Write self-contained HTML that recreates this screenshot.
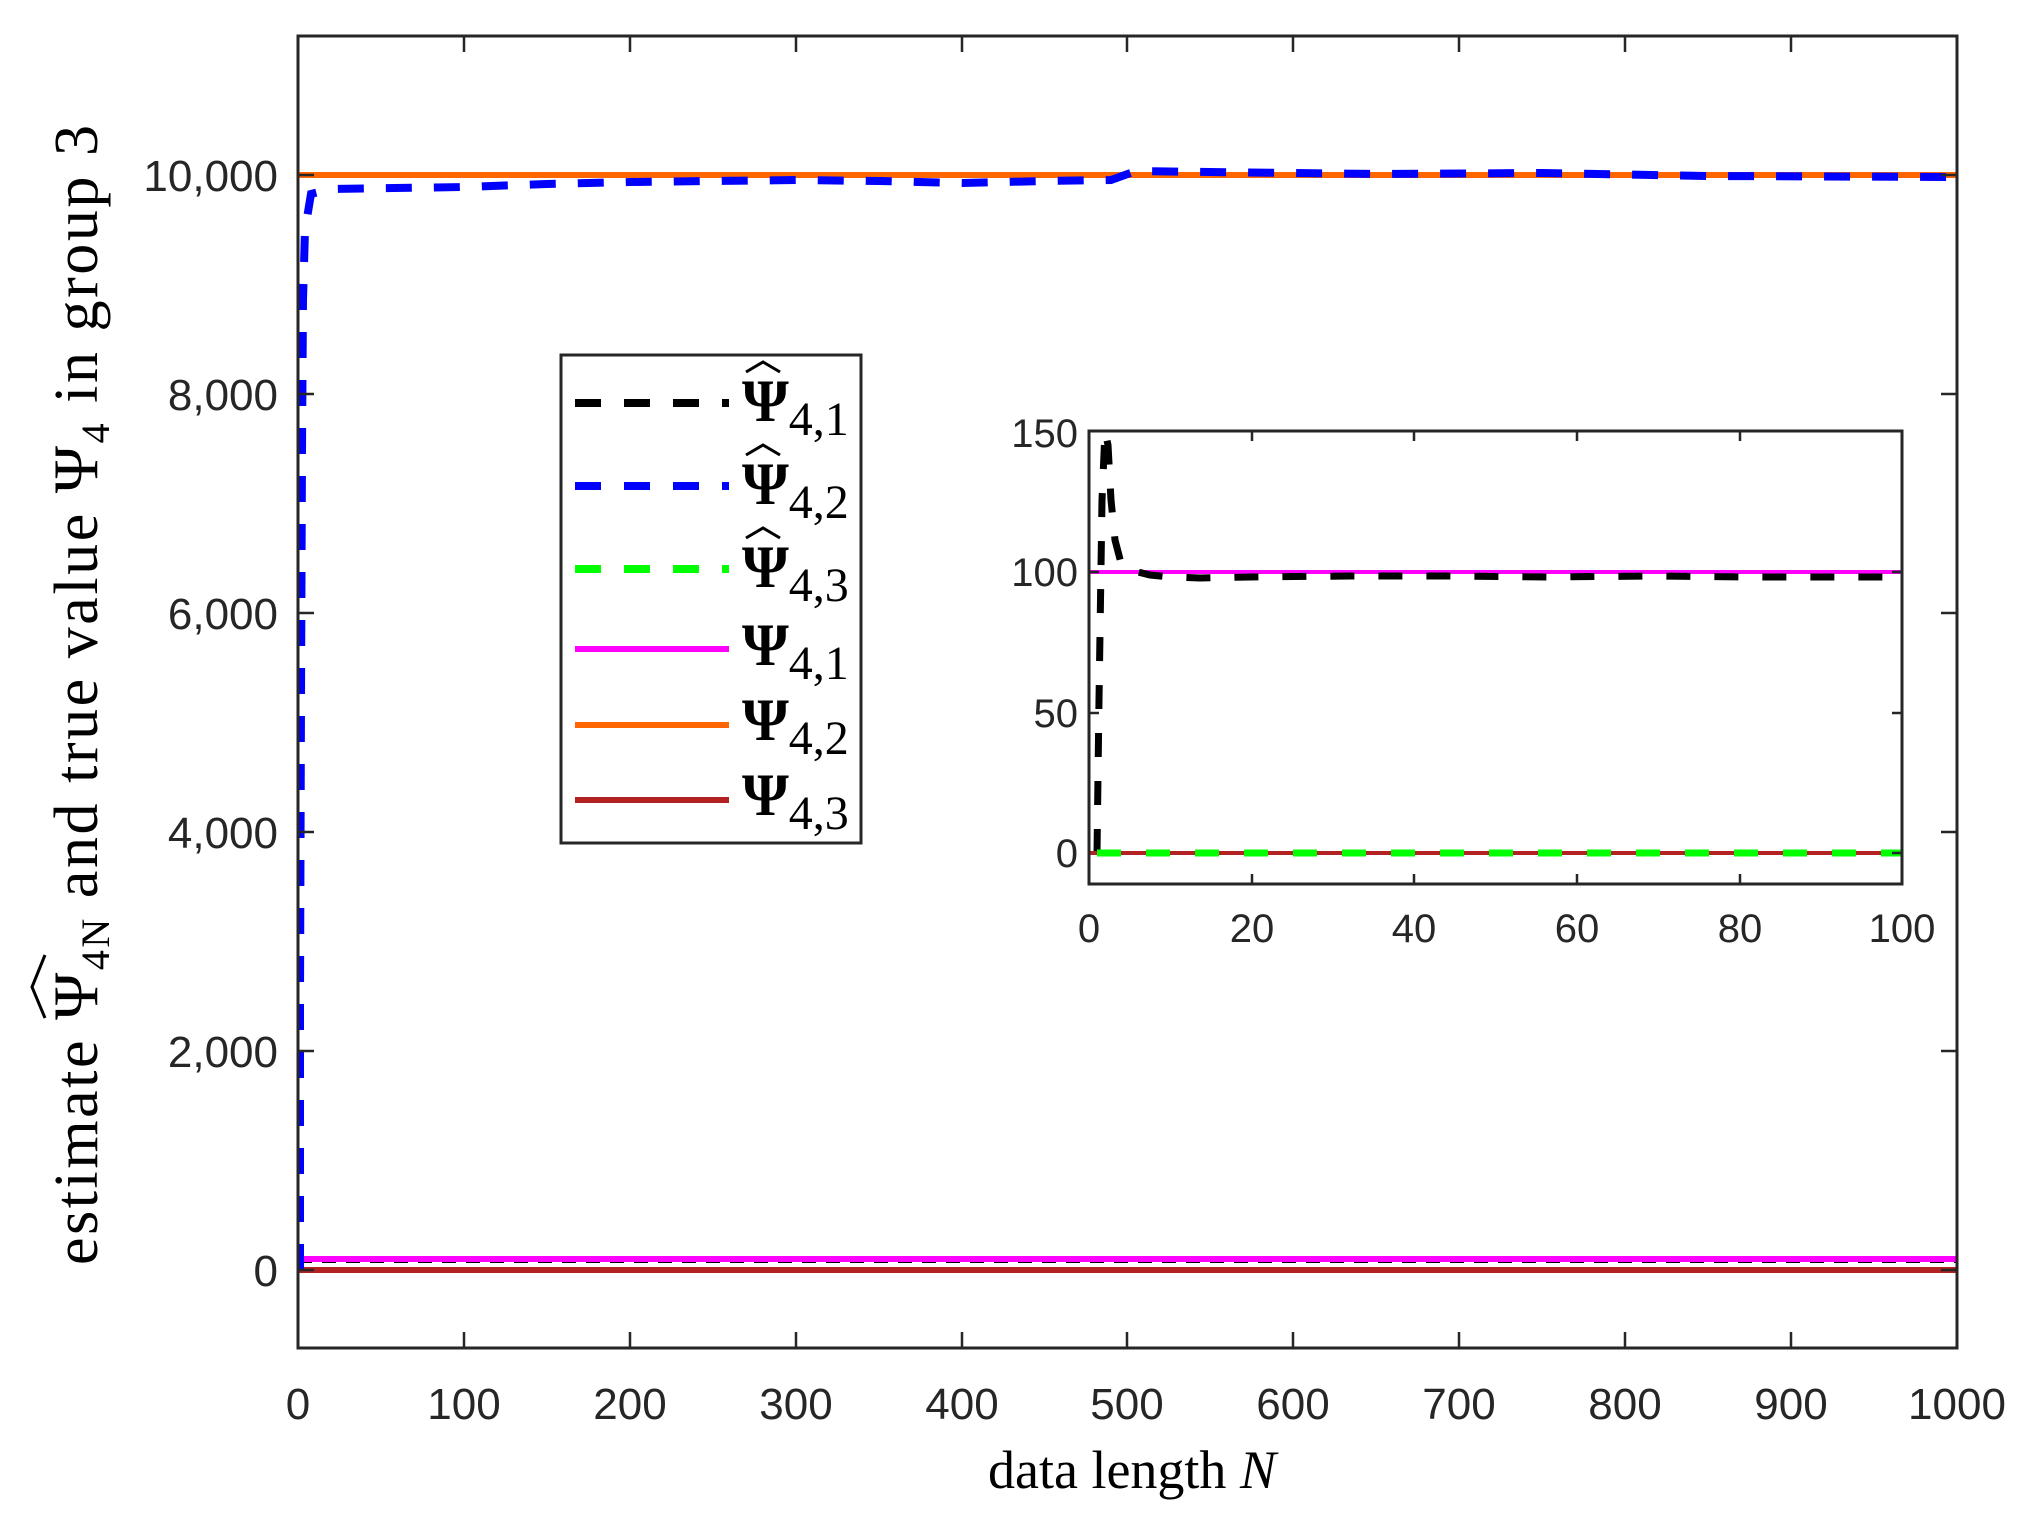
<!DOCTYPE html>
<html><head><meta charset="utf-8"><style>
html,body{margin:0;padding:0;background:#fff;}
svg{display:block;}
.tk{font-family:"Liberation Sans",Arial,sans-serif;fill:#262626;}
.sf{font-family:"Liberation Serif","DejaVu Serif",serif;fill:#000;}
</style></head><body>
<svg width="2040" height="1528" viewBox="0 0 2040 1528" xmlns="http://www.w3.org/2000/svg">
<rect width="2040" height="1528" fill="#fff"/>
<defs><clipPath id="mc"><rect x="298" y="36" width="1659" height="1312"/></clipPath>
<clipPath id="ic"><rect x="1089" y="431" width="813" height="453"/></clipPath></defs>
<g clip-path="url(#mc)" fill="none">
<line x1="298" y1="1270" x2="1957" y2="1270" stroke="#00ff00" stroke-width="4" stroke-dasharray="14 10"/>
<line x1="298" y1="1270" x2="1957" y2="1270" stroke="#b22222" stroke-width="6"/>
<line x1="298" y1="1261" x2="1957" y2="1261" stroke="#000" stroke-width="4" stroke-dasharray="14 10"/>
<line x1="298" y1="1259" x2="1957" y2="1259" stroke="#ff00ff" stroke-width="6"/>
<line x1="298" y1="175" x2="1957" y2="175" stroke="#ff6600" stroke-width="6"/>
<path d="M300,1270 L300,1000 L301,700 L302,450 L303,300 L305,230 L311,194 L331,189 L464,187 L547,184 L630,182 L796,180 L879,181 L962,183 L1045,181 L1111,180 L1136,171 L1210,172 L1376,174 L1542,173 L1708,176 L1957,177" stroke="#0000ff" stroke-width="8" stroke-dasharray="26 22"/>
</g>
<rect x="298" y="36" width="1659" height="1312" fill="none" stroke="#262626" stroke-width="3"/>
<g stroke="#262626" stroke-width="2.5">
<path d="M464,1348v-16M630,1348v-16M796,1348v-16M962,1348v-16M1127,1348v-16M1293,1348v-16M1459,1348v-16M1625,1348v-16M1791,1348v-16
M464,36v16M630,36v16M796,36v16M962,36v16M1127,36v16M1293,36v16M1459,36v16M1625,36v16M1791,36v16
M298,1270h16M298,1051h16M298,832h16M298,613h16M298,394h16M298,175h16
M1957,1270h-16M1957,1051h-16M1957,832h-16M1957,613h-16M1957,394h-16M1957,175h-16"/>
</g>
<g class="tk" font-size="44" text-anchor="middle">
<text x="298" y="1419">0</text><text x="464" y="1419">100</text><text x="630" y="1419">200</text><text x="796" y="1419">300</text><text x="962" y="1419">400</text><text x="1127" y="1419">500</text><text x="1293" y="1419">600</text><text x="1459" y="1419">700</text><text x="1625" y="1419">800</text><text x="1791" y="1419">900</text><text x="1957" y="1419">1000</text>
</g>
<g class="tk" font-size="44" text-anchor="end">
<text x="278" y="1286">0</text><text x="278" y="1067">2,000</text><text x="278" y="848">4,000</text><text x="278" y="629">6,000</text><text x="278" y="410">8,000</text><text x="278" y="191">10,000</text>
</g>
<text class="sf" x="1132" y="1488" font-size="54" text-anchor="middle">data length <tspan font-style="italic">N</tspan></text>
<g transform="translate(97,692) rotate(-90)">
<text class="sf" x="-573" y="0" font-size="62" textLength="1140" lengthAdjust="spacing">estimate <tspan font-size="64">Ψ</tspan><tspan font-size="40" dy="12">4N</tspan><tspan dy="-12"> and true value </tspan><tspan font-size="64">Ψ</tspan><tspan font-size="40" dy="12">4</tspan><tspan dy="-12"> in group 3</tspan></text>
<path d="M-326,-52 L-295,-65 L-263,-52" stroke="#000" stroke-width="3" fill="none"/>
</g>
<rect x="561" y="355" width="300" height="488" fill="#fff" stroke="#262626" stroke-width="3"/>
<g fill="none" stroke-width="8">
<path d="M575,403h154" stroke="#000" stroke-dasharray="26 23"/>
<path d="M575,486h154" stroke="#0000ff" stroke-dasharray="26 23"/>
<path d="M575,569h154" stroke="#00ff00" stroke-dasharray="26 23"/>
<path d="M575,649h154" stroke="#ff00ff" stroke-width="6"/>
<path d="M575,725h154" stroke="#ff6600" stroke-width="6"/>
<path d="M575,800h154" stroke="#b22222" stroke-width="6"/>
</g>
<g class="sf" font-weight="bold" font-size="60">
<text x="742" y="421">Ψ<tspan font-weight="normal" font-size="48" dy="14">4,1</tspan></text>
<text x="742" y="504">Ψ<tspan font-weight="normal" font-size="48" dy="14">4,2</tspan></text>
<text x="742" y="587">Ψ<tspan font-weight="normal" font-size="48" dy="14">4,3</tspan></text>
<text x="742" y="665">Ψ<tspan font-weight="normal" font-size="48" dy="14">4,1</tspan></text>
<text x="742" y="740">Ψ<tspan font-weight="normal" font-size="48" dy="14">4,2</tspan></text>
<text x="742" y="815">Ψ<tspan font-weight="normal" font-size="48" dy="14">4,3</tspan></text>
</g>
<g stroke="#000" stroke-width="3" fill="none">
<path d="M746,372 L763,362 L780,372"/><path d="M746,455 L763,445 L780,455"/><path d="M746,538 L763,528 L780,538"/>
</g>
<rect x="1089" y="431" width="813" height="453" fill="#fff"/>
<g clip-path="url(#ic)" fill="none">
<line x1="1089" y1="572" x2="1902" y2="572" stroke="#ff00ff" stroke-width="4"/>
<path d="M1097,853 L1099,700 L1102,500 L1105,431 L1108,445 L1111,500 L1115,540 L1121,563 L1130,570 L1150,575 L1170,577 L1200,578 L1250,577 L1350,576 L1450,576 L1550,577 L1650,576 L1750,577 L1902,577" stroke="#000" stroke-width="7" stroke-dasharray="24 24"/>
<line x1="1089" y1="853" x2="1902" y2="853" stroke="#b22222" stroke-width="4"/>
<line x1="1097" y1="853" x2="1902" y2="853" stroke="#00ff00" stroke-width="7" stroke-dasharray="24 25"/>
</g>
<rect x="1089" y="431" width="813" height="453" fill="none" stroke="#262626" stroke-width="3"/>
<g stroke="#262626" stroke-width="2.5">
<path d="M1252,884v-10M1414,884v-10M1577,884v-10M1740,884v-10M1252,431v10M1414,431v10M1577,431v10M1740,431v10
M1089,713h10M1089,572h10M1902,713h-10M1902,572h-10M1902,853h-10"/>
</g>
<g class="tk" font-size="40" text-anchor="middle">
<text x="1089" y="942">0</text><text x="1252" y="942">20</text><text x="1414" y="942">40</text><text x="1577" y="942">60</text><text x="1740" y="942">80</text><text x="1902" y="942">100</text>
</g>
<g class="tk" font-size="40" text-anchor="end">
<text x="1078" y="867">0</text><text x="1078" y="727">50</text><text x="1078" y="586">100</text><text x="1078" y="447">150</text>
</g>
</svg>
</body></html>
